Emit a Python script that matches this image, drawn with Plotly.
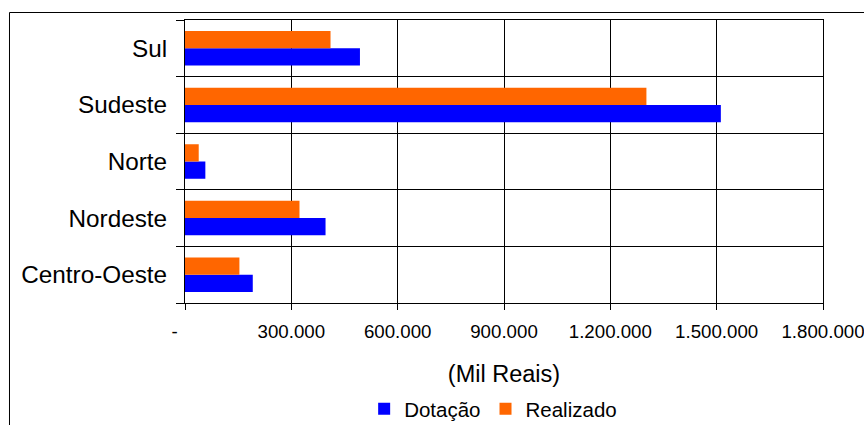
import plotly.graph_objects as go

regions = ["Centro-Oeste", "Nordeste", "Norte", "Sudeste", "Sul"]
dotacao = [191200, 396500, 57400, 1511800, 493600]
realizado = [153500, 323000, 38700, 1301800, 410600]
x_tickvals = [0, 300000, 600000, 900000, 1200000, 1500000, 1800000]
x_ticktext = ["-\u00a0\u00a0\u00a0\u00a0", "300.000", "600.000", "900.000", "1.200.000", "1.500.000", "1.800.000"]

FONT = "Liberation Sans, Arial, sans-serif"

fig = go.Figure()
fig.add_trace(go.Bar(y=regions, x=dotacao, orientation="h", name="Dotação",
                     marker=dict(color="#0000FF", line=dict(width=0))))
fig.add_trace(go.Bar(y=regions, x=realizado, orientation="h", name="Realizado",
                     marker=dict(color="#FF6600", line=dict(width=0))))

fig.update_layout(
    width=864, height=425,
    margin=dict(l=185, r=41, t=20, b=122, pad=0, autoexpand=False),
    paper_bgcolor="white", plot_bgcolor="white",
    barmode="group", bargap=0.39, bargroupgap=0,
    font=dict(family=FONT, color="black"),
    showlegend=True,
    legend=dict(orientation="h", x=0.483, xanchor="center", y=-0.3746, yanchor="middle",
                font=dict(size=20.5, family=FONT), itemwidth=30, traceorder="normal",
                bgcolor="rgba(0,0,0,0)"),
    xaxis=dict(range=[0, 1800000], tickvals=x_tickvals, ticktext=x_ticktext,
               showgrid=True, gridcolor="black", gridwidth=1,
               showline=True, linecolor="black", linewidth=1, mirror=True,
               ticks="outside", ticklen=6, tickcolor="black",
               tickfont=dict(size=18.7, family=FONT), ticklabeloverflow="allow",
               ticklabelstandoff=6,
               title=dict(text="(Mil Reais)", font=dict(size=23.5, family=FONT), standoff=24),
               automargin=False, zeroline=False, fixedrange=True),
    yaxis=dict(type="category", categoryorder="array", categoryarray=regions,
               range=[-0.5, 4.5], tickson="boundaries",
               showgrid=True, gridcolor="black", gridwidth=1,
               showline=True, linecolor="black", linewidth=1, mirror=True,
               ticks="outside", ticklen=8, tickcolor="black",
               tickfont=dict(size=24.3, family=FONT), ticklabelstandoff=12,
               automargin=False, fixedrange=True),
    shapes=[dict(type="rect", xref="paper", yref="paper",
                 x0=-0.2751, x1=1.0737, y0=-0.4488, y1=1.0265,
                 line=dict(color="black", width=1), fillcolor="rgba(0,0,0,0)", layer="below")],
)

fig.write_html("out.html")
